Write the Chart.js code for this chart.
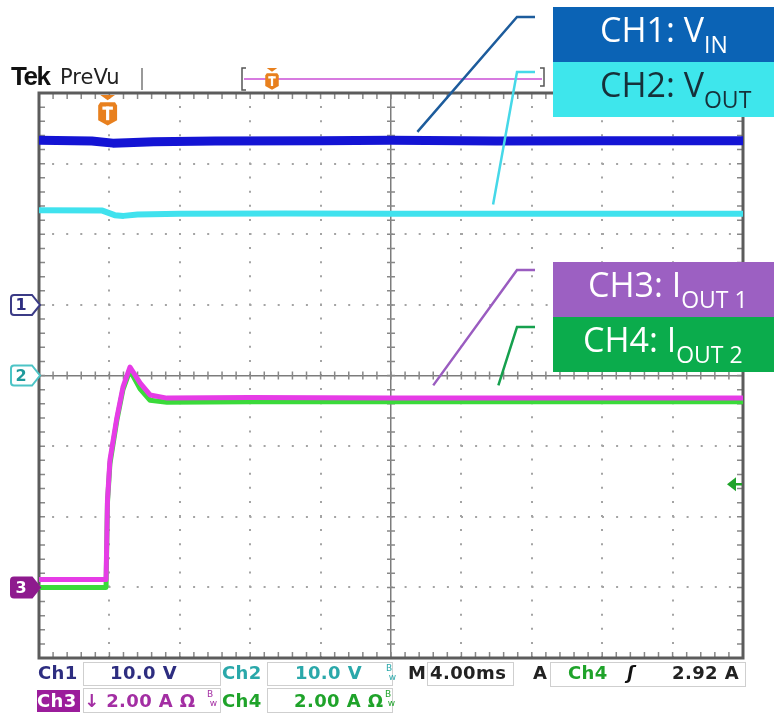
<!DOCTYPE html>
<html>
<head>
<meta charset="utf-8">
<script src="https://cdn.jsdelivr.net/npm/chart.js@4.4.1/dist/chart.umd.min.js"></script>
<style>
  body { margin: 0; background: #fff; overflow: hidden; }
  #wrap { position: relative; width: 774px; height: 715px; }
  #scopeChart { position: absolute; left: 0; top: 0; }
  .tag { position: absolute; left: 553px; width: 221px; height: 55px; box-sizing: border-box;
         font-family: 'Open Sans', sans-serif; font-size: 34px; line-height: 44px; white-space: nowrap; }
  .tag sub { font-size: 23px; vertical-align: -11px; line-height: 0; }
  .ro { position: absolute; font-family: 'DejaVu Sans', sans-serif; font-weight: bold; font-size: 18px;
        line-height: 18px; white-space: nowrap; letter-spacing: 0.4px; }
  .box { position: absolute; border: 1px solid #cfcfcf; box-sizing: border-box; }
  .bw { position: absolute; font-family: 'DejaVu Sans', sans-serif; font-size: 9px; line-height: 9px; }
  .hdr { position: absolute; white-space: nowrap; color: #111; }
</style>
</head>
<body>
<div id="wrap">
  <canvas id="scopeChart" width="774" height="715"></canvas>

  <div class="hdr" style="left:11px;top:63px;font-family:'Liberation Sans';font-weight:bold;font-size:26px;line-height:26px;letter-spacing:-1.5px;">Tek</div>
  <div class="hdr" style="left:60px;top:66px;font-family:'DejaVu Sans';font-size:21px;line-height:22px;color:#222;">PreVu</div>

  <div class="tag" style="top:7px;background:#0b63b5;color:#fff;padding-left:47px;">CH1: V<sub>IN</sub></div>
  <div class="tag" style="top:62px;background:#3ee6ec;color:#16303a;padding-left:47px;">CH2: V<sub>OUT</sub></div>
  <div class="tag" style="top:262px;background:#9c60c2;color:#fff;padding-left:35px;">CH3: I<sub>OUT 1</sub></div>
  <div class="tag" style="top:317px;background:#0bac4c;color:#fff;padding-left:30px;">CH4: I<sub>OUT 2</sub></div>

  <!-- readout row 1 -->
  <div class="box" style="left:83px;top:662px;width:138px;height:24px;"></div>
  <div class="box" style="left:267px;top:662px;width:126px;height:24px;"></div>
  <div class="box" style="left:427px;top:662px;width:87px;height:24px;"></div>
  <div class="box" style="left:550px;top:662px;width:196px;height:25px;"></div>
  <div class="ro" style="left:38px;top:664px;color:#2d2d80;">Ch1</div>
  <div class="ro" style="left:110px;top:664px;color:#2d2d80;">10.0 V</div>
  <div class="ro" style="left:222px;top:664px;color:#2aa8aa;">Ch2</div>
  <div class="ro" style="left:295px;top:664px;color:#2aa8aa;">10.0 V</div>
  <div class="bw" style="left:386px;top:664px;color:#2aa8aa;">B<br>&nbsp;w</div>
  <div class="ro" style="left:408px;top:664px;color:#222;">M</div>
  <div class="ro" style="left:430px;top:664px;color:#222;">4.00ms</div>
  <div class="ro" style="left:533px;top:664px;color:#222;">A</div>
  <div class="ro" style="left:568px;top:664px;color:#1fa32a;">Ch4</div>
  <div class="ro" style="left:627px;top:664px;color:#111;font-style:italic;">ʃ</div>
  <div class="ro" style="left:672px;top:664px;color:#222;">2.92 A</div>

  <!-- readout row 2 -->
  <div class="box" style="left:83px;top:688px;width:138px;height:25px;"></div>
  <div class="box" style="left:267px;top:688px;width:126px;height:25px;"></div>
  <div class="ro" style="left:37px;top:690px;width:43px;height:22px;line-height:22px;background:#9b1c9b;color:#fff;">Ch3</div>
  <div class="ro" style="left:84px;top:692px;color:#a32ea3;">↓ 2.00 A Ω</div>
  <div class="bw" style="left:207px;top:690px;color:#a32ea3;">B<br>&nbsp;w</div>
  <div class="ro" style="left:222px;top:692px;color:#1fa32a;">Ch4</div>
  <div class="ro" style="left:294px;top:692px;color:#1fa32a;">2.00 A Ω</div>
  <div class="bw" style="left:385px;top:690px;color:#1fa32a;">B<br>&nbsp;w</div>
</div>

<script>
// time in ms from left edge of the screen (4 ms/div)
const ch1Time = [0, 3.0, 4.2, 5.0, 6.5, 10, 16, 20, 26, 32, 40];
const ch1Volts = [23.3, 23.2, 22.9, 22.95, 23.1, 23.2, 23.25, 23.3, 23.2, 23.25, 23.25];

const ch2Time = [0, 3.6, 4.3, 4.8, 5.6, 8, 14, 20, 30, 40];
const ch2Volts = [23.4, 23.35, 22.7, 22.6, 22.8, 22.9, 22.95, 22.9, 22.9, 22.9];

const ch3Time = [0, 3.81, 3.89, 4.03, 4.43, 4.77, 5.17, 5.74, 6.31, 7.27, 12, 20, 30, 40];
const ch3Amps = [0.22, 0.22, 2.47, 3.6, 4.82, 5.67, 6.24, 5.79, 5.45, 5.36, 5.38, 5.36, 5.36, 5.36];

const ch4Time = [0, 3.81, 3.89, 4.03, 4.43, 4.77, 5.17, 5.74, 6.31, 7.27, 12, 20, 30, 40];
const ch4Amps = [0.0, 0.0, 2.4, 3.5, 4.75, 5.6, 6.15, 5.62, 5.3, 5.24, 5.26, 5.26, 5.26, 5.26];

const triggerMs = 3.9;
const triggerLevel = 2.92;   // A on Ch4

function pts(t, v) { return t.map((x, i) => ({ x: x, y: v[i] })); }

const dotDash = [2, 12.1];
const ctx = document.getElementById('scopeChart').getContext('2d');

const scopeDecor = {
    id: 'scopeDecor',
    beforeDatasetsDraw(chart) {
        const { ctx, chartArea: a, scales } = chart;
        const dx = (a.right - a.left) / 50, dy = (a.bottom - a.top) / 40;
        const cx = scales.x.getPixelForValue(20), cy = scales.grid.getPixelForValue(0);
        ctx.save();
        ctx.strokeStyle = '#888';
        ctx.lineWidth = 1.5;
        ctx.beginPath();
        for (let i = 1; i < 50; i++) {
            const px = a.left + i * dx;
            ctx.moveTo(px, a.top); ctx.lineTo(px, a.top + 6);
            ctx.moveTo(px, a.bottom); ctx.lineTo(px, a.bottom - 6);
            ctx.moveTo(px, cy - 4); ctx.lineTo(px, cy + 4);
        }
        for (let j = 1; j < 40; j++) {
            const py = a.top + j * dy;
            ctx.moveTo(a.left, py); ctx.lineTo(a.left + 6, py);
            ctx.moveTo(a.right, py); ctx.lineTo(a.right - 6, py);
            ctx.moveTo(cx - 4, py); ctx.lineTo(cx + 4, py);
        }
        ctx.stroke();
        ctx.strokeStyle = '#5c5c5c';
        ctx.lineWidth = 3;
        ctx.strokeRect(a.left, a.top, a.right - a.left, a.bottom - a.top);
        // record bar above the screen
        ctx.strokeStyle = '#999'; ctx.lineWidth = 2;
        ctx.beginPath(); ctx.moveTo(142, 68); ctx.lineTo(142, 90); ctx.stroke();
        ctx.strokeStyle = '#555'; ctx.lineWidth = 1.5;
        ctx.beginPath();
        ctx.moveTo(246, 68); ctx.lineTo(242, 68); ctx.lineTo(242, 90); ctx.lineTo(246, 90);
        ctx.moveTo(540, 68); ctx.lineTo(544, 68); ctx.lineTo(544, 86); ctx.lineTo(540, 86);
        ctx.stroke();
        ctx.strokeStyle = '#d77be0'; ctx.lineWidth = 2;
        ctx.beginPath(); ctx.moveTo(244, 79); ctx.lineTo(542, 79); ctx.stroke();
        drawT(ctx, 272, 68, 0.75);
        ctx.restore();
    },
    afterDraw(chart) {
        const { ctx, chartArea: a, scales } = chart;
        ctx.save();
        // leader lines from traces to labels
        const leaders = [
            { axis: 'y1', t: 21.5, v: 24.5, top: 17, color: '#1d5c9c' },
            { axis: 'y2', t: 25.8, v: 24.2, top: 72, color: '#46d8e8' },
            { axis: 'y3', t: 22.4, v: 5.72, top: 270, color: '#9a5cc0' },
            { axis: 'y4', t: 26.1, v: 5.72, top: 327, color: '#16a04e' }
        ];
        ctx.lineWidth = 2.5;
        leaders.forEach(l => {
            ctx.strokeStyle = l.color;
            ctx.beginPath();
            ctx.moveTo(scales.x.getPixelForValue(l.t), scales[l.axis].getPixelForValue(l.v));
            ctx.lineTo(517, l.top);
            ctx.lineTo(535, l.top);
            ctx.stroke();
        });
        // channel ground markers
        const marks = [
            { axis: 'y1', label: '1', fill: '#fff', edge: '#3b3b86', text: '#2d2d80' },
            { axis: 'y2', label: '2', fill: '#fff', edge: '#4cc4c6', text: '#1f9a9c' },
            { axis: 'y3', label: '3', fill: '#8e1a8e', edge: '#8e1a8e', text: '#fff' }
        ];
        marks.forEach(m => {
            const y = scales[m.axis].getPixelForValue(0);
            const l = 11, r = a.left + 1;
            ctx.beginPath();
            ctx.moveTo(l + 3, y - 10); ctx.lineTo(r - 8, y - 10); ctx.lineTo(r, y);
            ctx.lineTo(r - 8, y + 10); ctx.lineTo(l + 3, y + 10);
            ctx.quadraticCurveTo(l, y + 10, l, y + 7); ctx.lineTo(l, y - 7);
            ctx.quadraticCurveTo(l, y - 10, l + 3, y - 10);
            ctx.closePath();
            ctx.fillStyle = m.fill; ctx.fill();
            ctx.strokeStyle = m.edge; ctx.lineWidth = 2; ctx.stroke();
            ctx.fillStyle = m.text;
            ctx.font = 'bold 16px "DejaVu Sans"';
            ctx.textAlign = 'center'; ctx.textBaseline = 'middle';
            ctx.fillText(m.label, l + 10, y + 1);
        });
        // trigger position marker
        drawT(ctx, scales.x.getPixelForValue(triggerMs), a.top + 2, 1.05);
        // trigger level arrow
        const ty = scales.y4.getPixelForValue(triggerLevel);
        ctx.fillStyle = '#1fa32a';
        ctx.beginPath();
        ctx.moveTo(a.right - 16, ty); ctx.lineTo(a.right - 7, ty - 7); ctx.lineTo(a.right - 7, ty + 7);
        ctx.closePath(); ctx.fill();
        ctx.strokeStyle = '#1fa32a'; ctx.lineWidth = 2.5;
        ctx.beginPath(); ctx.moveTo(a.right - 8, ty); ctx.lineTo(a.right - 1, ty); ctx.stroke();
        ctx.restore();
    }
};

function drawT(ctx, x, y, s) {
    ctx.save();
    ctx.translate(x, y);
    ctx.scale(s, s);
    ctx.fillStyle = '#e8801e';
    ctx.beginPath();
    ctx.moveTo(-7, 0); ctx.lineTo(7, 0); ctx.lineTo(0, 5); ctx.closePath(); ctx.fill();
    ctx.beginPath();
    ctx.moveTo(-7, 7); ctx.lineTo(7, 7); ctx.lineTo(9, 10); ctx.lineTo(9, 24);
    ctx.lineTo(0, 29); ctx.lineTo(-9, 24); ctx.lineTo(-9, 10); ctx.closePath(); ctx.fill();
    ctx.fillStyle = '#fff';
    ctx.fillRect(-5, 11, 10, 3);
    ctx.fillRect(-1.5, 11, 3, 13);
    ctx.restore();
}

new Chart(ctx, {
    type: 'line',
    data: {
        datasets: [
            { label: 'CH1', data: pts(ch1Time, ch1Volts), yAxisID: 'y1', borderColor: '#1414d4', borderWidth: 9, order: 0 },
            { label: 'CH2', data: pts(ch2Time, ch2Volts), yAxisID: 'y2', borderColor: '#40e2ee', borderWidth: 6, order: 0 },
            { label: 'CH3', data: pts(ch3Time, ch3Amps), yAxisID: 'y3', borderColor: '#e63ce6', borderWidth: 5, order: 1 },
            { label: 'CH4', data: pts(ch4Time, ch4Amps), yAxisID: 'y4', borderColor: '#3ada3a', borderWidth: 5, order: 2 }
        ]
    },
    options: {
        responsive: false,
        animation: false,
        layout: { padding: { left: 39, top: 93, right: 31, bottom: 57 } },
        elements: { point: { radius: 0 }, line: { tension: 0, borderJoinStyle: 'round', borderCapStyle: 'butt' } },
        plugins: { legend: { display: false }, tooltip: { enabled: false } },
        scales: {
            x: {
                type: 'linear', min: 0, max: 40,
                ticks: { display: false, stepSize: 4 },
                grid: {
                    drawTicks: false,
                    color: c => c.tick.value === 20 ? '#7c7c7c' : '#a4a4a4',
                    lineWidth: c => c.tick.value === 20 ? 1.5 : 2
                },
                border: { display: false, dash: c => c.tick.value === 20 ? [] : dotDash, dashOffset: 1 }
            },
            grid: {
                type: 'linear', position: 'left', min: -4, max: 4,
                ticks: { display: false, stepSize: 1 },
                grid: {
                    drawTicks: false,
                    color: c => c.tick.value === 0 ? '#7c7c7c' : '#a4a4a4',
                    lineWidth: c => c.tick.value === 0 ? 1.5 : 2
                },
                border: { display: false, dash: c => c.tick.value === 0 ? [] : dotDash, dashOffset: 1 }
            },
            y1: { display: false, min: -50, max: 30 },   // 10 V/div, ground at +1 div
            y2: { display: false, min: -40, max: 40 },   // 10 V/div, ground at centre
            y3: { display: false, min: -2, max: 14 },    // 2 A/div, ground at -3 div
            y4: { display: false, min: -2, max: 14 }
        }
    },
    plugins: [scopeDecor]
});
</script>
</body>
</html>
